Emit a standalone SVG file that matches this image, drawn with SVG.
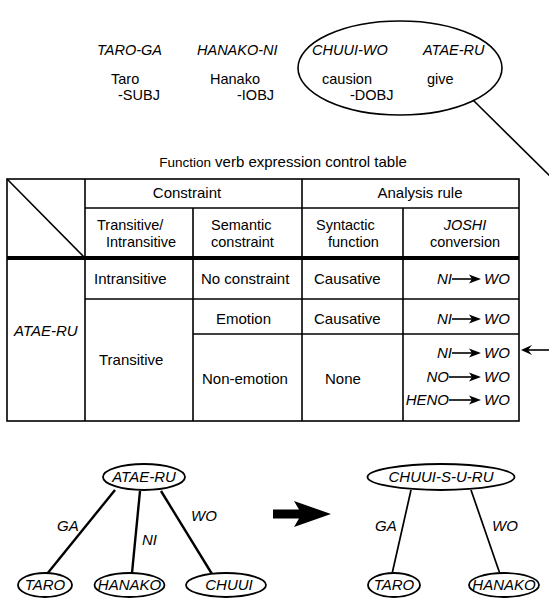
<svg xmlns="http://www.w3.org/2000/svg" width="549" height="599" viewBox="0 0 549 599">
<style>
text{font-family:"Liberation Sans",Arial,Helvetica,sans-serif;font-size:15px;fill:#000}
.s{font-size:14.5px}
.h{font-size:14.5px}
.i{font-style:italic}
.c{text-anchor:middle}
.e{text-anchor:end}
.ln{stroke:#000;stroke-width:1.6;fill:none}
.hv{stroke:#000;stroke-width:4;fill:none}
.nd{fill:#fff;stroke:#000;stroke-width:1.8}
.ed{stroke:#000;stroke-width:2.4;fill:none}
.ed2{stroke:#000;stroke-width:1.7;fill:none}
</style>
<defs>
<path id="ar" d="M0,0 L-12,-4.5 L-9,0 L-12,4.5 Z" fill="#000"/>
</defs>
<rect width="549" height="599" fill="#fff"/>

<g id="sentence">
<text class="i s" x="97" y="55">TARO-GA</text>
<text class="i s" x="197" y="55">HANAKO-NI</text>
<text class="i s" x="312" y="55">CHUUI-WO</text>
<text class="i s" x="423" y="55">ATAE-RU</text>
<text class="s" x="111" y="84">Taro</text>
<text class="s" x="118" y="100">-SUBJ</text>
<text class="s" x="210" y="84">Hanako</text>
<text class="s" x="237" y="100">-IOBJ</text>
<text class="s" x="322" y="84">causion</text>
<text class="s" x="350" y="100">-DOBJ</text>
<text class="s" x="427" y="84">give</text>
</g>
<g id="highlight">
<ellipse cx="400" cy="68" rx="102" ry="47" class="ln" stroke-width="1.8"/>
</g>

<g id="table">
<text class="c" x="283" y="167" font-size="15"><tspan font-size="13.5">Function</tspan> verb expression control table</text>
<rect x="7" y="179" width="512" height="242" class="ln" stroke-width="2"/>
<line x1="7" y1="179" x2="85" y2="258" class="ln" stroke-width="2.2"/>
<line x1="85" y1="179" x2="85" y2="421" class="ln"/>
<line x1="302" y1="179" x2="302" y2="421" class="ln"/>
<line x1="193" y1="208" x2="193" y2="421" class="ln"/>
<line x1="403" y1="208" x2="403" y2="421" class="ln"/>
<line x1="85" y1="208" x2="519" y2="208" class="ln"/>
<line x1="7" y1="258" x2="519" y2="258" class="hv"/>
<line x1="85" y1="299" x2="519" y2="299" class="ln"/>
<line x1="193" y1="334" x2="519" y2="334" class="ln"/>

<text class="c" x="187" y="198">Constraint</text>
<text class="c" x="420" y="198">Analysis rule</text>
<text class="h" x="97" y="230">Transitive/</text>
<text class="h" x="106" y="247">Intransitive</text>
<text class="h" x="211" y="230">Semantic</text>
<text class="h" x="211" y="247">constraint</text>
<text class="h" x="316" y="230">Syntactic</text>
<text class="h" x="328" y="247">function</text>
<text class="h i c" x="465" y="230">JOSHI</text>
<text class="h c" x="465" y="247">conversion</text>

<text x="94" y="284">Intransitive</text>
<text x="201" y="284">No constraint</text>
<text x="314" y="284">Causative</text>
<text x="216" y="324">Emotion</text>
<text x="314" y="324">Causative</text>
<text class="i" x="14" y="336">ATAE-RU</text>
<text x="99" y="365">Transitive</text>
<text x="202" y="384">Non-emotion</text>
<text x="325" y="384">None</text>

<g id="rules">
<text class="i e" x="452" y="284">NI</text><line x1="452" y1="279" x2="474" y2="279" class="ln" stroke-width="1.4"/><use href="#ar" x="481" y="279"/><text class="i" x="484" y="284">WO</text>
<text class="i e" x="452" y="324">NI</text><line x1="452" y1="319" x2="474" y2="319" class="ln" stroke-width="1.4"/><use href="#ar" x="481" y="319"/><text class="i" x="484" y="324">WO</text>
<text class="i e" x="452" y="358">NI</text><line x1="452" y1="353" x2="474" y2="353" class="ln" stroke-width="1.4"/><use href="#ar" x="481" y="353"/><text class="i" x="484" y="358">WO</text>
<text class="i e" x="449" y="382">NO</text><line x1="449" y1="377" x2="474" y2="377" class="ln" stroke-width="1.4"/><use href="#ar" x="481" y="377"/><text class="i" x="484" y="382">WO</text>
<text class="i e" x="449" y="405">HENO</text><line x1="449" y1="400" x2="474" y2="400" class="ln" stroke-width="1.4"/><use href="#ar" x="481" y="400"/><text class="i" x="484" y="405">WO</text>
</g>
</g>

<g id="connectors">
<line x1="473" y1="100" x2="556" y2="182" class="ln" stroke-width="2"/>
<line x1="549" y1="350" x2="524" y2="350" class="ln" stroke-width="1.6"/>
<path d="M521,350 L532,345 L528,350 L532,355 Z" fill="#000"/>
<line x1="115" y1="490" x2="47" y2="574" class="ed"/>
<line x1="140" y1="491" x2="132" y2="573" class="ed"/>
<line x1="161" y1="491" x2="212" y2="574" class="ed"/>
<line x1="411" y1="490" x2="392" y2="574" class="ed2"/>
<line x1="471" y1="490" x2="500" y2="574" class="ed2"/>
<path d="M273,509.5 L299,509.5 L294,501 L331,514 L294,527 L299,518.5 L273,518.5 Z" fill="#000"/>
</g>

<g id="labels">
<text class="i" x="57" y="531">GA</text>
<text class="i" x="142" y="545">NI</text>
<text class="i" x="191" y="521">WO</text>
<text class="i" x="375" y="531">GA</text>
<text class="i" x="492" y="531">WO</text>
</g>

<g id="n-atae"><ellipse cx="144" cy="477" rx="41" ry="13" class="nd"/><text class="i c" x="144" y="482">ATAE-RU</text></g>
<g id="n-taro"><ellipse cx="45" cy="585" rx="27" ry="12" class="nd"/><text class="i c" x="45" y="590">TARO</text></g>
<g id="n-hanako"><ellipse cx="129.5" cy="585" rx="35" ry="12" class="nd"/><text class="i c" x="129.5" y="590">HANAKO</text></g>
<g id="n-chuui"><ellipse cx="226" cy="585" rx="40" ry="12" class="nd"/><text class="i c" x="229" y="590">CHUUI</text></g>
<g id="n-chuuisuru"><ellipse cx="441" cy="477" rx="73.5" ry="13" class="nd"/><text class="i c" x="441" y="482">CHUUI-S-U-RU</text></g>
<g id="n-taro2"><ellipse cx="394" cy="585" rx="26" ry="12" class="nd"/><text class="i c" x="394" y="590">TARO</text></g>
<g id="n-hanako2"><ellipse cx="504" cy="585" rx="35" ry="12" class="nd"/><text class="i c" x="504" y="590">HANAKO</text></g>
</svg>
